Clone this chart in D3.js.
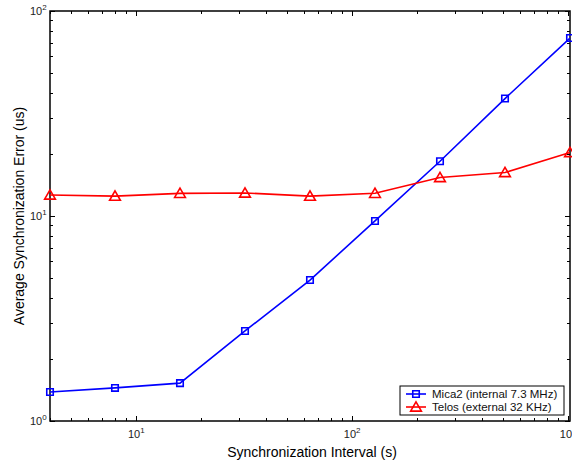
<!DOCTYPE html>
<html><head><meta charset="utf-8">
<script src="https://cdn.jsdelivr.net/npm/d3@7/dist/d3.min.js"></script>
<style>body{margin:0;background:#fff}svg{display:block;font-family:"Liberation Sans",Arial,sans-serif}</style>
</head><body><svg id="c" width="572" height="466"></svg>
<script>
const intervals = [4, 8, 16, 32, 64, 128, 256, 512, 1024];
const mica2 = [1.385, 1.45, 1.53, 2.75, 4.87, 9.46, 18.5, 37.4, 73.8];
const telos = [12.66, 12.5, 12.9, 12.95, 12.5, 12.9, 15.4, 16.3, 20.4];
const seriesNames = ["Mica2 (internal 7.3 MHz)", "Telos (external 32 KHz)"];
const xMajor = [10, 100, 1000];
const yMajor = [1, 10, 100];
const xLabel = "Synchronization Interval (s)";
const yLabel = "Average Synchronization Error (us)";

const svg = d3.select("#c");
const L = 50, R = 570, T = 11, B = 421;
const x = d3.scaleLog().domain([4, 1024]).range([L, R]);
const y = d3.scaleLog().domain([1, 100]).range([B, T]);

// minor ticks
const xMinor = [];
for (let d = 1; d <= 1000; d *= 10) for (let k = 1; k <= 9; k++) { const v = d * k; if (v >= 4 && v <= 1024 && k !== 1) xMinor.push(v); }
const yMinor = [];
for (let d = 1; d < 100; d *= 10) for (let k = 2; k <= 9; k++) yMinor.push(d * k);

const g = svg.append("g");
const tk = g.append("g").attr("stroke", "#000").attr("stroke-width", 1);
function tick(x1, y1, x2, y2) { tk.append("line").attr("x1", x1).attr("y1", y1).attr("x2", x2).attr("y2", y2); }
xMinor.forEach(v => { const px = Math.round(x(v)) + 0.5; tick(px, B, px, B - 3); tick(px, T, px, T + 3); });
xMajor.forEach(v => { const px = Math.round(x(v)) + 0.5; tick(px, B, px, B - 5); tick(px, T, px, T + 5); });
yMinor.forEach(v => { const py = Math.round(y(v)) + 0.5; tick(L, py, L + 3, py); tick(R, py, R - 3, py); });
yMajor.forEach(v => { const py = Math.round(y(v)) + 0.5; tick(L, py, L + 5, py); tick(R, py, R - 5, py); });

// box
g.append("rect").attr("x", L).attr("y", T).attr("width", R - L).attr("height", B - T)
  .attr("fill", "none").attr("stroke", "#000").attr("stroke-width", 1.5);

// tick labels
function powLabel(sel, exp) {
  sel.append("tspan").text("10");
  sel.append("tspan").attr("dy", -5).attr("font-size", 8).text(exp);
}
xMajor.forEach(v => {
  const t = svg.append("text").attr("x", x(v) - 8).attr("y", 438).attr("font-size", 11).attr("fill", "#222");
  powLabel(t, Math.round(Math.log10(v)));
});
yMajor.forEach(v => {
  const t = svg.append("text").attr("x", L - 20).attr("y", y(v) + 4).attr("font-size", 11).attr("fill", "#222");
  powLabel(t, Math.round(Math.log10(v)));
});

svg.append("text").attr("x", (L + R) / 2 + 2).attr("y", 457).attr("text-anchor", "middle")
  .attr("font-size", 14).text(xLabel);
svg.append("text").attr("transform", `translate(24,${(T + B) / 2}) rotate(-90)`).attr("text-anchor", "middle")
  .attr("font-size", 14).text(yLabel);

const line = d3.line().x(d => x(d[0])).y(d => y(d[1]));
const dataM = intervals.map((v, i) => [v, mica2[i]]);
const dataT = intervals.map((v, i) => [v, telos[i]]);

const plot = svg.append("g");
plot.append("path").datum(dataM).attr("d", line).attr("fill", "none").attr("stroke", "#0000ff").attr("stroke-width", 1.6);
plot.append("path").datum(dataT).attr("d", line).attr("fill", "none").attr("stroke", "#ff0000").attr("stroke-width", 1.6);

const sq = d3.symbol().type(d3.symbolSquare).size(42);
const tri = d3.symbol().type(d3.symbolTriangle).size(50);
plot.selectAll(".m").data(dataM).join("path").attr("transform", d => `translate(${x(d[0])},${y(d[1])})`)
  .attr("d", sq).attr("fill", "none").attr("stroke", "#0000ff").attr("stroke-width", 1.6);
plot.selectAll(".t").data(dataT).join("path").attr("transform", d => `translate(${x(d[0])},${y(d[1]) + 1})`)
  .attr("d", tri).attr("fill", "none").attr("stroke", "#ff0000").attr("stroke-width", 1.6);

// legend
const lg = svg.append("g");
lg.append("rect").attr("x", 400).attr("y", 386).attr("width", 164).attr("height", 29)
  .attr("fill", "#fff").attr("stroke", "#000").attr("stroke-width", 1);
const cols = ["#0000ff", "#ff0000"];
[0, 1].forEach(i => {
  const cy = 394 + i * 13;
  lg.append("line").attr("x1", 406).attr("x2", 426).attr("y1", cy).attr("y2", cy).attr("stroke", cols[i]).attr("stroke-width", 1.6);
  lg.append("path").attr("transform", `translate(416,${cy + (i ? 1 : 0)})`).attr("d", i ? tri : sq)
    .attr("fill", "none").attr("stroke", cols[i]).attr("stroke-width", 1.6);
  lg.append("text").attr("x", 432).attr("y", cy + 4).attr("font-size", 11.5).attr("fill", "#111").text(seriesNames[i]);
});
</script></body></html>
